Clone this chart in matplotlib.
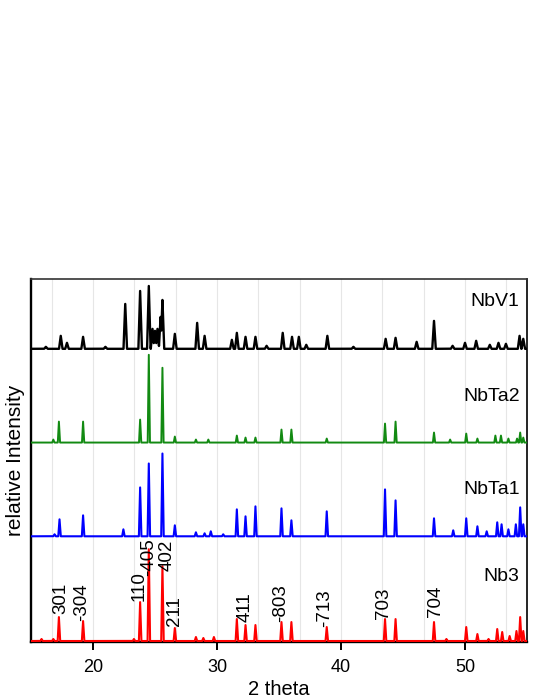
import numpy as np
import matplotlib
matplotlib.use("Agg")
from matplotlib import pyplot as plt

plt.rcParams['font.family'] = ['Liberation Sans', 'DejaVu Sans']

# peak positions (2 theta) and heights (arbitrary units)
nb3_pos = [15.85, 16.8, 17.25, 19.2, 23.3, 23.8, 24.5, 25.6, 26.6, 28.3, 28.9, 29.75,
           31.6, 32.3, 33.1, 35.2, 36.0, 38.85, 43.55, 44.4, 47.5, 48.5, 50.1, 51.0,
           51.9, 52.6, 53.0, 53.6, 54.15, 54.45, 54.7]
nb3_int = [2, 2, 24, 20, 2, 39, 92, 75, 13, 4, 3, 4,
           22, 16, 16, 19, 19, 14, 22, 22, 19, 2, 14, 7,
           2, 12, 9, 5, 10, 24, 10]

nbta1_pos = [16.9, 17.3, 19.2, 22.45, 23.8, 24.5, 25.6, 26.6, 28.3, 29.0, 29.5, 30.5,
             31.6, 32.3, 33.1, 35.2, 36.0, 38.85, 43.55, 44.4, 47.5, 49.05, 50.1, 51.0,
             51.75, 52.6, 52.95, 53.5, 54.1, 54.45, 54.7]
nbta1_int = [2, 17, 21, 7, 49, 73, 83, 11, 4, 3, 5, 2,
             27, 20, 30, 28, 16, 25, 47, 36, 18, 6, 18, 10,
             5, 14, 12, 7, 12, 29, 12]

nbta2_pos = [16.8, 17.25, 19.2, 23.8, 24.5, 25.6, 26.6, 28.3, 29.3, 31.6, 32.3, 33.1,
             35.2, 36.0, 38.85, 43.55, 44.4, 47.5, 48.8, 50.1, 51.0, 52.45, 52.9,
             53.5, 54.2, 54.45, 54.7]
nbta2_int = [3, 21, 21, 23, 88, 75, 6, 3, 3, 7, 5, 5,
             13, 13, 4, 19, 21, 10, 3, 9, 4, 7, 7,
             4, 4, 10, 5]

nbv1_pos = [16.2, 17.4, 17.9, 19.2, 21.0, 22.6, 23.8, 24.5, 24.8, 25.0, 25.2, 25.45,
            25.6, 26.6, 28.4, 29.0, 31.2, 31.6, 32.3, 33.1, 34.0, 35.3, 36.05, 36.6,
            37.2, 38.9, 41.0, 43.6, 44.4, 46.1, 47.5, 49.0, 50.0, 50.9, 52.0, 52.7,
            53.3, 54.4, 54.7]
nbv1_int = [2, 13, 6, 12, 2, 45, 58, 63, 20, 18, 20, 32,
            49, 15, 26, 13, 9, 16, 12, 12, 3, 16, 12, 12,
            4, 13, 2, 10, 11, 7, 28, 3, 6, 8, 4, 6,
            5, 13, 10]

# Miller indices labelled on the Nb3 pattern and where their text sits
hkl = ['301', '-304', '110', '-405', '402', '211', '411', '-803', '-713', '703', '704']
hkl_x = [17.4, 19.1, 23.7, 24.45, 25.95, 26.6, 32.3, 35.1, 38.7, 43.4, 47.6]
hkl_y = [27, 20, 40, 65, 70, 15, 19, 19, 14, 22, 24]

names = ['Nb3', 'NbTa1', 'NbTa2', 'NbV1']
offsets = [0, 105, 199, 293]
colors = ['#ff0000', '#0000ff', '#128a12', '#000000']
name_y = [65, 152, 245, 340]


def pattern(pos, inten, hw):
    x = np.linspace(15, 55, 8001)
    y = np.zeros_like(x)
    for p, h in zip(pos, inten):
        y = np.maximum(y, h * np.clip(1 - np.abs(x - p) / hw, 0, None))
    return x, y


fig = plt.figure(figsize=(5.4, 6.99), dpi=100)
ax = fig.add_axes([31 / 540, 57 / 699, 496 / 540, 363 / 699])

series = [(nb3_pos, nb3_int, 0.1), (nbta1_pos, nbta1_int, 0.1),
          (nbta2_pos, nbta2_int, 0.09), (nbv1_pos, nbv1_int, 0.14)]
widths = [1.5, 1.5, 1.4, 1.7]
for (pos, inten, hw), off, c, nm, ny, lw in zip(series, offsets, colors, names, name_y, widths):
    x, y = pattern(pos, inten, hw)
    ax.plot(x, y + off, color=c, lw=lw, zorder=3, solid_joinstyle='round')
    ax.text(54.4, ny, nm, ha='right', va='center', fontsize=14)

for lab, lx, ly in zip(hkl, hkl_x, hkl_y):
    ax.text(lx, ly, lab, rotation=90, ha='center', va='bottom', fontsize=13.5, zorder=4)

for g in np.arange(50, 166, 10) / 3:
    ax.axvline(g, color='#e6e6e6', lw=0.8, zorder=0)

ax.set_xlim(15, 55)
ax.set_ylim(-1, 363)
ax.set_xticks([20, 30, 40, 50])
ax.set_yticks([])
ax.tick_params(axis='x', length=6, width=1.4, labelsize=13, pad=6)
for s in ['left', 'bottom']:
    ax.spines[s].set_linewidth(1.7)
for s in ['top', 'right']:
    ax.spines[s].set_linewidth(1.2)
ax.spines['top'].set_color('#333333')
ax.set_xlabel('2 theta', fontsize=14.5, labelpad=3)
ax.set_ylabel('relative Intensity', fontsize=15, labelpad=4)

plt.savefig('out.png', dpi=100)
plt.close()
